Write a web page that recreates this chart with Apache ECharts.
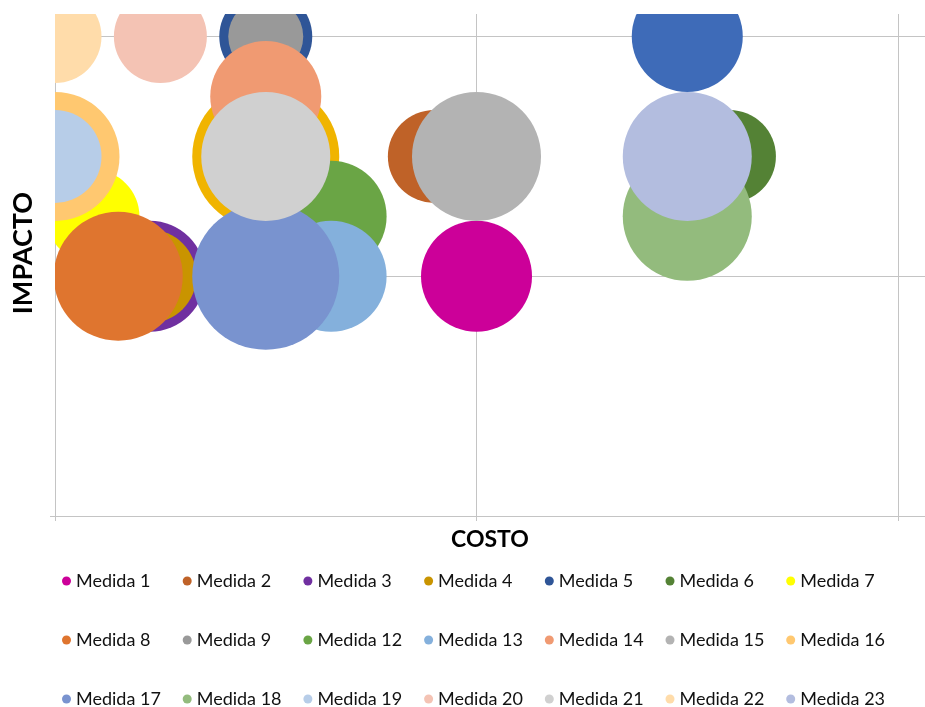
<!DOCTYPE html>
<html>
<head>
<meta charset="utf-8">
<script src="https://cdn.jsdelivr.net/npm/echarts@6/dist/echarts.min.js"></script>
<style>
  html, body { margin: 0; padding: 0; background: #fff; }
  #main { width: 925px; height: 707px; }
</style>
</head>
<body>
<div id="main"></div>
<script>
// datos de las medidas (costo, impacto, tamaño de burbuja)
var medidas = ['Medida 1', 'Medida 2', 'Medida 3', 'Medida 4', 'Medida 5', 'Medida 6', 'Medida 7', 'Medida 8', 'Medida 9', 'Medida 10', 'Medida 11',
  'Medida 12', 'Medida 13', 'Medida 14', 'Medida 15', 'Medida 16', 'Medida 17', 'Medida 18', 'Medida 19', 'Medida 20', 'Medida 21', 'Medida 22', 'Medida 23']
var costo = [1, 0.9, 0.225, 0.225, 0.5, 1.6, 0.09, 0.15, 0.5, 1.5, 0.5,
  0.655, 0.655, 0.5, 1, 0, 0.5, 1.5, 0, 0.25, 0.5, 0, 1.5]
var impacto = [1, 1.5, 1, 1, 2, 1.5, 1.25, 1, 2, 2, 1.5,
  1.25, 1, 1.75, 1.5, 1.5, 1, 1.25, 1.5, 2, 1.5, 2, 1.5]
var tamano = [3, 2, 3, 2, 2, 2, 2, 4, 1, 3, 5,
  3, 3, 3, 4, 4, 5, 4, 2, 2, 4, 2, 4]
// Medida 10 y 11 no aparecen en la leyenda (orden por columnas)
var leyenda = [
  ['Medida 1', 'Medida 8', 'Medida 17'],
  ['Medida 2', 'Medida 9', 'Medida 18'],
  ['Medida 3', 'Medida 12', 'Medida 19'],
  ['Medida 4', 'Medida 13', 'Medida 20'],
  ['Medida 5', 'Medida 14', 'Medida 21'],
  ['Medida 6', 'Medida 15', 'Medida 22'],
  ['Medida 7', 'Medida 16', 'Medida 23']
]

var colores = ['#cc0099', '#bf6228', '#7030a0', '#c99400', '#2f5597', '#548235', '#ffff00', '#df752f', '#999999', '#3e6bb8', '#f0b400',
  '#6aa545', '#84b0dc', '#f09a72', '#b3b3b3', '#ffc870', '#7993cf', '#93bb7d', '#b7cde8', '#f4c3b4', '#d0d0d0', '#ffdcaa', '#b3bddf']

var chart = echarts.init(document.getElementById('main'))

var series = []
for (var i = 0; i < medidas.length; i++) {
  series.push({
    name: medidas[i],
    type: 'scatter',
    symbol: 'circle',
    symbolSize: function (val) { return 57 + 18 * val[2] },
    itemStyle: { color: colores[i], opacity: 1 },
    emphasis: { disabled: true },
    data: [[costo[i], impacto[i], tamano[i]]]
  })
}

var legends = []
for (var c = 0; c < leyenda.length; c++) {
  legends.push({
    data: leyenda[c],
    top: 572,
    left: 62 + 120.7 * c,
    height: 200,
    padding: 0,
    orient: 'vertical',
    icon: 'circle',
    itemWidth: 9,
    itemHeight: 9,
    itemGap: 41,
    selectedMode: false,
    textStyle: { fontFamily: 'Lato', fontSize: 18, color: '#111' }
  })
}

var gris = '#c4c4c4'

var option = {
  animation: false,
  grid: { left: 55, right: 0, top: 14, bottom: 191 },
  xAxis: {
    type: 'value',
    min: 0,
    max: 2.064,
    interval: 1,
    name: 'COSTO',
    nameLocation: 'middle',
    nameGap: 12,
    nameTextStyle: { fontFamily: 'Lato', fontWeight: 'bold', fontSize: 23, color: '#000' },
    axisLine: { show: true, lineStyle: { color: gris } },
    axisTick: { show: true, length: 5, lineStyle: { color: gris } },
    axisLabel: { show: false },
    splitLine: { show: true, showMinLine: false, showMaxLine: false, lineStyle: { color: gris } }
  },
  yAxis: {
    type: 'value',
    min: 0,
    max: 2.094,
    interval: 1,
    axisLine: { show: true, lineStyle: { color: gris } },
    axisTick: { show: true, length: 5, lineStyle: { color: gris } },
    axisLabel: { show: false },
    splitLine: { show: true, showMinLine: false, showMaxLine: false, lineStyle: { color: gris } }
  },
  legend: legends,
  graphic: {
    elements: [
      // recorte del área de trazado
      { type: 'rect', z: 100, shape: { x: 0, y: 0, width: 925, height: 14 }, style: { fill: '#fff' } },
      { type: 'rect', z: 100, shape: { x: 0, y: 0, width: 55, height: 515 }, style: { fill: '#fff' } },
      {
        type: 'text', z: 101, x: 23, y: 253, rotation: Math.PI / 2,
        style: { text: 'IMPACTO', font: 'bold 27px Lato', fill: '#000', align: 'center', verticalAlign: 'middle' }
      }
    ]
  },
  series: series
}

chart.setOption(option)
</script>
</body>
</html>
